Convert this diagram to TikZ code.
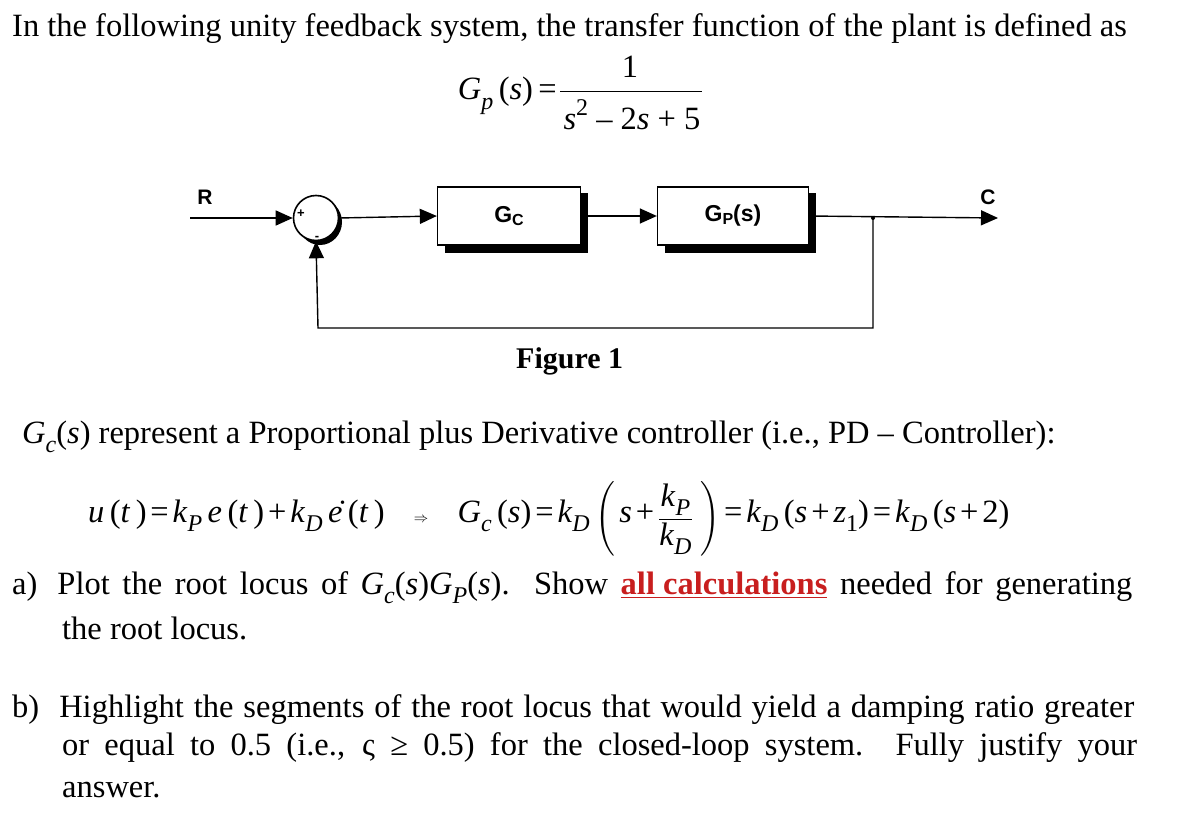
\documentclass[tikz,border=0pt]{standalone}
\usepackage{fontspec}
\setmainfont{Liberation Serif}
\newfontfamily\sff{Liberation Sans}
\usepackage{amsmath}
\usetikzlibrary{arrows.meta}
\definecolor{redul}{RGB}{200,30,30}
\newcommand\mv[1]{\textit{#1}}
\newcommand\sbx[1]{\raisebox{-0.28em}{\fontsize{24}{24}\selectfont\textit{#1}}}
\newcommand\sbu[1]{\raisebox{-0.28em}{\fontsize{24}{24}\selectfont #1}}
\newcommand\eqs{\hspace{0.12em}=\hspace{0.12em}}
\newcommand\pls{\hspace{0.12em}+\hspace{0.12em}}
\begin{document}
\begin{tikzpicture}[x=1pt,y=-1pt,
  txt/.style={anchor=base west,inner sep=0pt,font=\fontsize{32.5}{38}\selectfont},
  blk/.style={draw,line width=1.3pt,fill=white,minimum width=143pt,minimum height=58pt,font=\sff\bfseries\fontsize{23}{26}\selectfont},
  shadow/.style={fill=black},
  sig/.style={line width=1.4pt,-{Triangle[length=17pt,width=15pt]}},
  lab/.style={font=\sff\bfseries\fontsize{21}{24}\selectfont,inner sep=0pt}]
\useasboundingbox (0,0) rectangle (1194,832);
\node[txt] (l1) at (12,37) {In the following unity feedback system, the transfer function of the plant is defined as};
\node[txt,anchor=base east] (gp) at (557,100) {\mv{G}\sbx{p}\,(\mv{s})\,=};
\node[txt,anchor=base] (num) at (630,78) {1};
\node[txt,anchor=base] (den) at (632,130) {\mv{s}\raisebox{0.45em}{\fontsize{24}{24}\selectfont 2} – 2\mv{s} + 5};
\draw[line width=0.9pt] (560,91) -- (702,91);
% block diagram
\node[lab] (R) at (205,197) {R};
\node[lab] (C) at (988,197) {C};
\coordinate (rin) at (190,218);
\fill (320,222) ellipse (22pt and 23pt);
\node[draw,circle,line width=1.6pt,fill=white,minimum size=45pt,inner sep=0pt] (sum) at (316,218) {};
\node[font=\sff\bfseries\fontsize{13}{13}\selectfont] at (301,214) {+};
\node[font=\sff\bfseries\fontsize{13}{13}\selectfont] at (317,238) {-};
\fill[shadow] (445,193) rectangle (588,253);
\node[blk] (gc) at (509,216) {G\raisebox{-3pt}{\fontsize{16}{16}\selectfont C}};
\fill[shadow] (665,193) rectangle (816,253);
\node[blk,minimum width=151pt] (gps) at (733,216) {G\raisebox{-3pt}{\fontsize{16}{16}\selectfont P}(s)};
\coordinate (j) at (873,218);
\coordinate (cout) at (998,218);
\coordinate (fb) at (873,328);
\coordinate (fb2) at (318,328);
\draw[sig] (rin) -- (sum.west);
\draw[sig] (sum.east) -- (gc.west);
\draw[sig] (gc.east) -- (gps.west);
\draw[sig] (gps.east) -- (cout);
\fill (j) circle (2pt);
\draw[sig] (j) -- (fb) -- (fb2) -- (sum.south);
\node[txt,font=\bfseries\fontsize{30}{36}\selectfont] (fig) at (516,368) {Figure 1};
\node[txt] (gcl) at (22,443) {\mv{G}\sbx{c}(\mv{s}) represent a Proportional plus Derivative controller (i.e., PD – Controller):};
\node[txt] (ueq) at (88,522) {\mv{u}\,(\mv{t}\,)\eqs\mv{k}\sbx{P}\,\mv{e}\,(\mv{t}\,)\pls\mv{k}\sbx{D}\,\.{\mv{e}}\,(\mv{t}\,)\hspace{0.9em}{\Large$\Rightarrow$}\hspace{0.9em}\mv{G}\sbx{c}\,(\mv{s})\eqs\mv{k}\sbx{D}\,\raisebox{-0.1em}{$\left(\vphantom{\dfrac{k^k}{k_k}}\right.$}\hspace{0.1em}\mv{s}\pls\raisebox{-0.1em}{$\dfrac{\text{\mv{k}\sbx{P}}}{\text{\mv{k}\sbx{D}}}$}\hspace{0.2em}\raisebox{-0.1em}{$\left.\vphantom{\dfrac{k^k}{k_k}}\right)$}\eqs\mv{k}\sbx{D}\,(\mv{s}\pls\mv{z}\sbu{1})\eqs\mv{k}\sbx{D}\,(\mv{s}\pls2)};
\node[txt] (a1) at (12,594) {a)\hspace{20pt}\makebox[1075pt][s]{Plot the root locus of \mv{G}\sbx{c}(\mv{s})\mv{G}\sbx{P}(\mv{s}). Show \textcolor{redul}{\bfseries\underline{all calculations}} needed for generating}};
\node[txt] (a2) at (62,639) {the root locus.};
\node[txt] (b1) at (12,717) {b)\hspace{20pt}\makebox[1075pt][s]{Highlight the segments of the root locus that would yield a damping ratio greater}};
\node[txt] (b2) at (62,755) {\makebox[1075pt][s]{or equal to 0.5 (i.e., ς ≥ 0.5) for the closed-loop system. Fully justify your}};
\node[txt] (b3) at (62,797) {answer.};
\end{tikzpicture}
\end{document}
